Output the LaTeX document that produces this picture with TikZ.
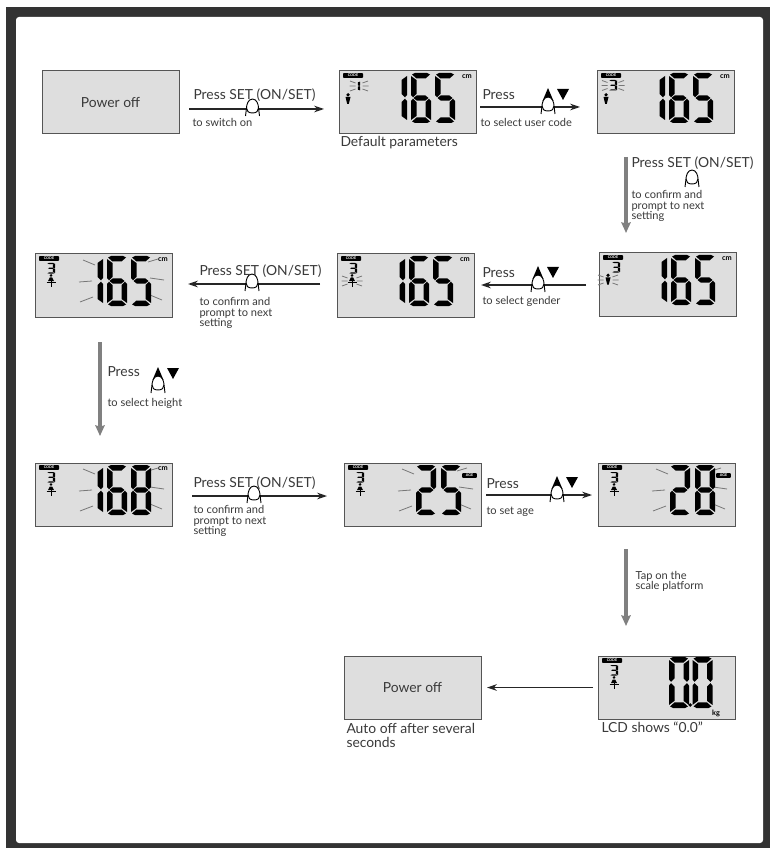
\documentclass[tikz,border=0pt]{standalone}
\usepackage{fontspec}
\setmainfont{Lato}
\usetikzlibrary{arrows.meta}

\tikzset{every picture/.style={line width=0.75pt}}

\definecolor{framedark}{HTML}{333333}
\definecolor{lcdfill}{HTML}{DEDEDE}
\definecolor{lcdedge}{HTML}{555555}
\definecolor{txtgray}{HTML}{3A3A3A}
\definecolor{flowgray}{HTML}{808080}
\definecolor{raygray}{HTML}{777777}

% segments of one big digit, 20 wide and 50 high
\def\segA{(4,0) -- (16,0) -- (19,1.5) -- (14.5,5.5) -- (5.5,5.5) -- (1,1.5) -- cycle}
\def\segB{(20,3) -- (20,22) -- (18,24.3) -- (14.5,21) -- (14.5,7) -- cycle}
\def\segC{(20,28) -- (20,47) -- (14.5,43) -- (14.5,29) -- (18,25.7) -- cycle}
\def\segD{(1,48.5) -- (5.5,44.5) -- (14.5,44.5) -- (19,48.5) -- (16,50) -- (4,50) -- cycle}
\def\segE{(0,28) -- (2,25.7) -- (5.5,29) -- (5.5,43) -- (0,47) -- cycle}
\def\segF{(0,3) -- (5.5,7) -- (5.5,21) -- (2,24.3) -- (0,22) -- cycle}
\def\segG{(2.5,25) -- (5.8,22.3) -- (14.2,22.3) -- (17.5,25) -- (14.2,27.7) -- (5.8,27.7) -- cycle}

\def\dgzero{A,B,C,D,E,F}
\def\dgone{B,C}
\def\dgtwo{A,B,G,E,D}
\def\dgthree{A,B,G,C,D}
\def\dgfive{A,F,G,C,D}
\def\dgsix{A,F,G,E,C,D}
\def\dgeight{A,B,C,D,E,F,G}

\tikzset{
  every pic/.style={yscale=-1},
  lcd/.style={draw=lcdedge,fill=lcdfill,anchor=north west,inner sep=0pt,outer sep=0pt,
    minimum width=102.75pt,minimum height=47.25pt,text=txtgray,font=\fontsize{10.4}{12}\selectfont},
  biglab/.style={anchor=west,inner sep=0pt,text=txtgray,align=left,font=\fontsize{10.4}{10.5}\selectfont},
  smalllab/.style={anchor=west,inner sep=0pt,text=txtgray,align=left,font=\fontsize{8.3}{8}\selectfont},
  badge/.style={fill=black,text=white,rounded corners=0.5pt,inner sep=0pt,minimum width=15pt,
    minimum height=3.4pt,font=\fontsize{2.8}{3}\selectfont\bfseries},
  agebadge/.style={badge,minimum width=11pt},
  unitlab/.style={inner sep=0pt,text=black,font=\fontsize{5.5}{6}\selectfont\bfseries},
  rayline/.style={draw=raygray,line width=0.6pt},
  flowthick/.style={draw=black!85,line width=1.5pt},
  flowthin/.style={draw=black!85,line width=0.9pt,-{Stealth[length=7.5pt,width=5pt]}},
  grayflow/.style={draw=flowgray,line width=2.7pt,-{Stealth[length=8pt,width=7pt,inset=1pt]}},
  digit/.pic={\edef\seglist{#1}\foreach \s in \seglist {\expandafter\fill[line join=round,line width=0.3pt]\csname seg\s\endcsname;}},
  codebadge/.pic={\node[badge] (code) at (14,4.5) {CODE};},
  man/.pic={\fill (0,1.8) circle (1.8); \fill (-2.5,4) -- (2.5,4) -- (0.8,11) -- (-0.8,11) -- cycle;},
  woman/.pic={\fill (0,1.4) circle (1.4); \fill (-1.2,3.5) -- (1.2,3.5) -- (3,7) -- (-3,7) -- cycle;
    \draw (-4.5,8) -- (4.5,8); \draw (0,7) -- (0,12.5);},
  sparkle/.pic={\draw[rayline] (-#1-5.5,-5) -- (-#1,-3) (-#1-6,0) -- (-#1,0) (-#1-5.5,5) -- (-#1,3)
    (#1+5.5,-5) -- (#1,-3) (#1+6,0) -- (#1,0) (#1+5.5,5) -- (#1,3);},
  updown/.pic={\fill (0,-19) -- (5.5,-6) -- (-5.5,-6) -- cycle; \fill (9,-18) -- (21,-18) -- (15,-7) -- cycle;},
  fingertip/.pic={\draw[fill=white,line width=0.7pt] (0,-10) .. controls (4.5,-10) and (6,-4) .. (6,-1)
      .. controls (6,2) and (4,4) .. (0,4) .. controls (-4,4) and (-6,2) .. (-6,-1)
      .. controls (-6,-4) and (-4.5,-10) .. (0,-10) -- cycle;
    \draw[line width=0.7pt] (-6,-1) -- (-7,7) (6,-1) -- (7,7);},
}

% one panel head, the figures go in the picture
\newcommand{\digitrays}[1]{%
  \draw[rayline] (48+#1,6) -- (60+#1,11) (44+#1,28) -- (57+#1,27) (45+#1,48) -- (58+#1,43)
    (113,8) -- (123,5) (115,24) -- (129,26) (115,41) -- (127,46);}
\newcommand{\lcdnum}[3]{%
  \pic at (48,2) {digit=#1}; \pic at (72,2) {digit=#2}; \pic at (96,2) {digit=#3};}
\newcommand{\codethree}{\pic[xscale=0.4,yscale=0.21] at (12,9) {digit=\dgthree};}

\begin{document}
\begin{tikzpicture}[x=0.75pt,y=0.75pt,yscale=-1,xscale=1]
\useasboundingbox (0,0) rectangle (771,848);

% Frame
\fill[framedark] (6,7) rectangle (770,848);
\fill[white,rounded corners=2.25pt] (16,17) rectangle (763,843);

% Panels
\node[lcd] (pwra) at (42,71) {Power off};
\node[lcd] (lcdb) at (339,71) {};
\node[lcd] (lcdc) at (597,71) {};
\node[lcd] (lcdf) at (599,253) {};
\node[lcd] (lcde) at (337,254) {};
\node[lcd] (lcdd) at (35,254) {};
\node[lcd] (lcdg) at (35,463) {};
\node[lcd] (lcdh) at (344,463) {};
\node[lcd] (lcdi) at (598,463) {};
\node[lcd] (lcdj) at (598,656) {};
\node[lcd] (pwrb) at (344,656) {Power off};

% Panel contents
\begin{scope}[shift={(lcdb.north west)}]
\pic (lcdb) {codebadge};
\pic[xscale=0.4,yscale=0.2] at (13,10) {digit=\dgone};
\pic at (20,15) {sparkle=3.5};
\pic at (9,22) {man};
\lcdnum{\dgone}{\dgsix}{\dgfive}
\node[unitlab] (lcdbunit) at (128,6) {cm};
\end{scope}
\begin{scope}[shift={(lcdc.north west)}]
\pic (lcdc) {codebadge};
\codethree
\pic at (16,14.5) {sparkle=5.5};
\pic at (9,22) {man};
\lcdnum{\dgone}{\dgsix}{\dgfive}
\node[unitlab] (lcdcunit) at (128,6) {cm};
\end{scope}
\begin{scope}[shift={(lcdf.north west)}]
\pic (lcdf) {codebadge};
\pic[xscale=0.4,yscale=0.21] at (13,9) {digit=\dgthree};
\pic at (9,20.5) {man};
\pic at (9,27) {sparkle=4.5};
\lcdnum{\dgone}{\dgsix}{\dgfive}
\node[unitlab] (lcdfunit) at (128,6) {cm};
\end{scope}
\begin{scope}[shift={(lcde.north west)}]
\pic (lcde) {codebadge};
\codethree
\pic at (15,20) {woman};
\pic at (15,27) {sparkle=4.5};
\lcdnum{\dgone}{\dgsix}{\dgfive}
\node[unitlab] (lcdeunit) at (128,6) {cm};
\end{scope}
\begin{scope}[shift={(lcdd.north west)}]
\pic (lcdd) {codebadge};
\codethree
\pic at (16,20) {woman};
\digitrays{0}
\lcdnum{\dgone}{\dgsix}{\dgfive}
\node[unitlab] (lcddunit) at (128,6) {cm};
\end{scope}
\begin{scope}[shift={(lcdg.north west)}]
\pic (lcdg) {codebadge};
\codethree
\pic at (16,20) {woman};
\digitrays{0}
\lcdnum{\dgone}{\dgsix}{\dgeight}
\node[unitlab] (lcdgunit) at (128,6) {cm};
\end{scope}
\begin{scope}[shift={(lcdh.north west)}]
\pic (lcdh) {codebadge};
\codethree
\pic at (16,20) {woman};
\digitrays{10}
\pic at (72,2) {digit=\dgtwo}; \pic at (97,2) {digit=\dgfive};
\node[agebadge] (lcdhunit) at (125.5,12.5) {AGE};
\end{scope}
\begin{scope}[shift={(lcdi.north west)}]
\pic (lcdi) {codebadge};
\codethree
\pic at (16,20) {woman};
\digitrays{10}
\pic at (72,2) {digit=\dgtwo}; \pic at (97,2) {digit=\dgeight};
\node[agebadge] (lcdiunit) at (125.5,12.5) {AGE};
\end{scope}
\begin{scope}[shift={(lcdj.north west)}]
\pic (lcdj) {codebadge};
\codethree
\pic at (16,20) {woman};
\pic[yscale=1.02] at (71,1) {digit=\dgzero};
\pic[yscale=1.02] at (94.5,1) {digit=\dgzero};
\fill (92.2,49) circle (1.8);
\node[unitlab] (lcdjunit) at (118,57) {kg};
\end{scope}

% Finger positions
\coordinate (fa) at (252.5,109);
\coordinate (fb) at (548,107);
\coordinate (fc) at (538,285);
\coordinate (fd) at (252,284);
\coordinate (fe) at (254,496);
\coordinate (ff) at (557,495);
\coordinate (fg) at (692,180);
\coordinate (fh) at (158,386);

% Black arrows
\draw[flowthick,shorten <=7.5pt] (pwra.east |- fa) -- (fa);
\draw[flowthin,shorten >=11.25pt] (fa) -- (lcdb.west |- fa);
\draw[flowthick,shorten <=3pt] (lcdb.east |- fb) -- (fb);
\draw[flowthin,shorten >=12.75pt] (fb) -- (lcdc.west |- fb);
\draw[flowthick,shorten <=9.75pt] (lcdf.west |- fc) -- (fc);
\draw[flowthin,shorten >=5.25pt] (fc) -- (lcde.east |- fc);
\draw[flowthick,shorten <=12.75pt] (lcde.west |- fd) -- (fd);
\draw[flowthin,shorten >=12pt] (fd) -- (lcdd.east |- fd);
\draw[flowthick,shorten <=15pt] (lcdg.east |- fe) -- (fe);
\draw[flowthin,shorten >=12.75pt] (fe) -- (lcdh.west |- fe);
\draw[flowthick,shorten <=3.75pt] (lcdh.east |- ff) -- (ff);
\draw[flowthin,shorten >=4.5pt] (ff) -- (lcdi.west |- ff);
\draw[flowthin,shorten <=3.75pt,shorten >=4.5pt] (lcdj.west) -- (pwrb.east);

% Gray arrows
\coordinate (gc) at (626,0);
\coordinate (gd) at (100,0);
\draw[grayflow,shorten <=17.25pt,shorten >=15pt] (gc |- lcdc.south) -- (gc |- lcdf.north);
\draw[grayflow,shorten <=18.75pt,shorten >=20.25pt] (gd |- lcdd.south) -- (gd |- lcdg.north);
\draw[grayflow,shorten <=17.25pt,shorten >=22.5pt] (gc |- lcdi.south) -- (gc |- lcdj.north);

% Buttons and fingers
\pic at (fb) {updown};
\pic at (fc) {updown};
\pic at (ff) {updown};
\pic at (fh) {updown};
\foreach \f in {fa,fb,fc,fd,fe,ff,fg,fh} {\pic at (\f) {fingertip};}

% Text Node
\node[biglab] (presssa) at (193,95) {Press SET (ON/SET)};
\node[smalllab] (switchon) at (192,122) {to switch on};
\node[biglab] (defparam) at (340,143) {Default parameters};
\node[biglab] (pressb) at (482,95) {Press};
\node[smalllab] (selcode) at (480,122) {to select user code};
\node[biglab] (presssb) at (631,163) {Press SET (ON/SET)};
\node[smalllab] (confa) at (631,206) {to confirm and\\prompt to next\\setting};
\node[biglab] (pressc) at (482,273) {Press};
\node[smalllab] (selgender) at (482,301) {to select gender};
\node[biglab] (presssc) at (199,271) {Press SET (ON/SET)};
\node[smalllab] (confb) at (199,313) {to confirm and\\prompt to next\\setting};
\node[biglab] (pressd) at (107,372) {Press};
\node[smalllab] (selheight) at (107,403) {to select height};
\node[biglab] (presssd) at (193,483) {Press SET (ON/SET)};
\node[smalllab] (confc) at (193,521) {to confirm and\\prompt to next\\setting};
\node[biglab] (presse) at (486,484) {Press};
\node[smalllab] (setage) at (486,512) {to set age};
\node[smalllab] (tapon) at (635,581.5) {Tap on the\\scale platform};
\node[biglab] (lcdshows) at (601,727) {LCD shows “0.0”};
\node[biglab] (autooff) at (346,735) {Auto off after several\\seconds};

\end{tikzpicture}
\end{document}
